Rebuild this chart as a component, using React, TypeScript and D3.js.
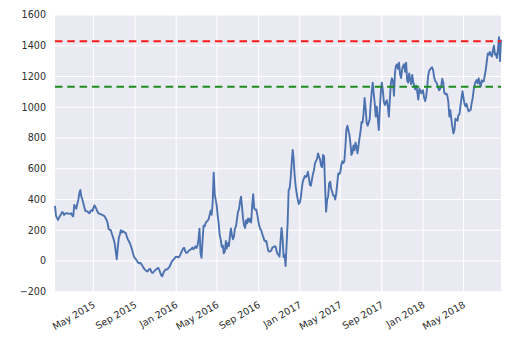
import React from 'react';
import * as d3 from 'd3';

// readings every 3 days, one list per calendar year
const startDates = ['2015-01-07', '2016-01-01', '2017-01-01', '2018-01-01'];
const stepDays = 3;

const values2015 = [
  358, 293, 280, 267, 280, 293, 305, 318, 315, 299,
  308, 310, 310, 308, 307, 306, 310, 295, 290, 365,
  353, 340, 370, 397, 440, 462, 418, 400, 375, 350,
  325, 324, 322, 314, 310, 325, 330, 325, 345, 362,
  350, 335, 320, 309, 307, 305, 301, 298, 295, 290,
  278, 265, 245, 208, 202, 202, 180, 160, 140, 110,
  60, 11, 90, 150, 170, 200, 185, 195, 190, 184,
  180, 155, 140, 128, 115, 96, 75, 50, 27, 18,
  10, 0, -11, -15, -12, -18, -28, -40, -50, -58,
  -64, -69, -62, -54, -52, -69, -78, -75, -67, -59,
  -55, -48, -45, -60, -78, -95, -100, -78, -65, -56,
  -56, -55, -45, -38, -25, -8, 3, 8, 17, 25,
];

const values2016 = [
  28, 26, 24, 27, 40, 55, 70, 83, 85, 62,
  52, 55, 62, 70, 74, 78, 87, 76, 85, 95,
  84, 98, 140, 210, 50, 20, 130, 230, 225, 245,
  256, 262, 271, 300, 327, 300, 380, 574, 435, 397,
  360, 295, 240, 165, 138, 92, 100, 50, 61, 130,
  80, 115, 97, 158, 212, 169, 141, 160, 212, 225,
  270, 321, 335, 386, 418, 350, 275, 234, 215, 265,
  245, 276, 256, 275, 250, 360, 435, 342, 333, 335,
  305, 262, 228, 208, 198, 175, 155, 134, 127, 130,
  95, 65, 61, 62, 70, 88, 90, 95, 95, 70,
  45, 40, 28, 130, 215, 150, 25, 40, -33, 110,
  245, 462, 473, 538, 635, 722, 657, 548, 483, 437,
  400, 370,
];

const values2017 = [
  380, 410, 470, 520, 535, 552, 545, 555, 580, 540,
  495, 490, 530, 565, 590, 635, 650, 662, 700, 680,
  660, 620, 610, 690, 680, 480, 321, 397, 420, 505,
  516, 470, 450, 425, 425, 400, 440, 505, 570, 565,
  576, 625, 648, 637, 650, 740, 850, 880, 850, 820,
  765, 690, 705, 752, 720, 770, 745, 700, 750, 800,
  843, 905, 900, 960, 1060, 995, 900, 880, 900, 920,
  1020, 1100, 1160, 1090, 1026, 939, 1004, 930, 852, 990,
  1100, 1160, 1110, 1036, 1015, 1036, 1045, 1000, 939, 1060,
  1160, 1188, 1170, 1075, 1225, 1270, 1280, 1250, 1290, 1215,
  1190, 1245, 1268, 1280, 1230, 1290, 1175, 1160, 1220, 1180,
  1150, 1210, 1165, 1140, 1115, 1140, 1100, 1050, 1120, 1110,
  1090, 1105,
];

const values2018 = [
  1110, 1065, 1040, 1065, 1120, 1200, 1235, 1245, 1255, 1260,
  1240, 1195, 1172, 1162, 1150, 1125, 1110, 1120, 1140, 1185,
  1160, 1095, 1085, 1090, 1075, 1035, 940, 980, 920, 870,
  830, 850, 925, 920, 912, 950, 955, 1010, 1060, 1105,
  1060, 1020, 1005, 1022, 995, 973, 980, 982, 1026, 1058,
  1112, 1145, 1166, 1177, 1156, 1188, 1155, 1135, 1175, 1166,
  1170, 1208, 1245, 1300, 1350, 1342, 1360, 1340, 1330, 1370,
  1400, 1342, 1348, 1320, 1375, 1455, 1300, 1440,
];

const upperLevel = 1430;
const lowerLevel = 1133;

const yTicks = [-200, 0, 200, 400, 600, 800, 1000, 1200, 1400, 1600];

const width = 527;
const height = 349;
const margin = { top: 15, right: 26, bottom: 57.3, left: 55 };

const parse = d3.timeParse('%Y-%m-%d');
const yearly = [values2015, values2016, values2017, values2018];
const data = yearly.flatMap((vals, k) => {
  const start = parse(startDates[k]) as Date;
  return vals.map((v, i) => ({ date: d3.timeDay.offset(start, i * stepDays), value: v }));
});

const fmt = d3.timeFormat('%b %Y');
const fmtY = (v: number) => (v < 0 ? '\u2212' + Math.abs(v) : String(v));

export default function App() {
  const x = d3
    .scaleTime()
    .domain(d3.extent(data, (d) => d.date) as [Date, Date])
    .range([margin.left, width - margin.right]);
  const y = d3
    .scaleLinear()
    .domain([-200, 1600])
    .range([height - margin.bottom, margin.top]);

  const xTicks = x.ticks(d3.timeMonth.every(4) as d3.TimeInterval);
  const line = d3
    .line<{ date: Date; value: number }>()
    .x((d) => x(d.date))
    .y((d) => y(d.value));

  const x0 = margin.left;
  const x1 = width - margin.right;
  const yBottom = height - margin.bottom;
  const font = '"DejaVu Sans", sans-serif';

  return (
    <svg
      width={width}
      height={height}
      style={{ position: 'absolute', left: 0, top: 0, background: '#fff' }}
    >
      <rect x={x0} y={margin.top} width={x1 - x0} height={yBottom - margin.top} fill="#EAEAF2" />
      {yTicks.map((t) => (
        <line key={'gy' + t} x1={x0} x2={x1} y1={y(t)} y2={y(t)} stroke="#fff" strokeWidth={1.1} />
      ))}
      {xTicks.map((t) => (
        <line key={'gx' + t.getTime()} x1={x(t)} x2={x(t)} y1={margin.top} y2={yBottom} stroke="#fff" strokeWidth={1.1} />
      ))}
      <path d={line(data) || ''} fill="none" stroke="#4C72B0" strokeWidth={1.9} strokeLinejoin="round" />
      <line x1={x0} x2={x1} y1={y(upperLevel)} y2={y(upperLevel)} stroke="#FF1A1A" strokeWidth={2} strokeDasharray="7.5 4.8" />
      <line x1={x0} x2={x1} y1={y(lowerLevel)} y2={y(lowerLevel)} stroke="#1E8C1E" strokeWidth={2} strokeDasharray="7.5 4.8" />
      {yTicks.map((t) => (
        <text
          key={'ty' + t}
          x={x0 - 9}
          y={y(t)}
          dy="0.35em"
          textAnchor="end"
          fontFamily={font}
          fontSize={9.6}
          fill="#2e2e2e"
        >
          {fmtY(t)}
        </text>
      ))}
      {xTicks.map((t) => (
        <text
          key={'tx' + t.getTime()}
          transform={`translate(${x(t) - 1},${yBottom + 9}) rotate(-30)`}
          dy="0.72em"
          textAnchor="end"
          fontFamily={font}
          fontSize={9.6}
          fill="#2e2e2e"
        >
          {fmt(t)}
        </text>
      ))}
    </svg>
  );
}
